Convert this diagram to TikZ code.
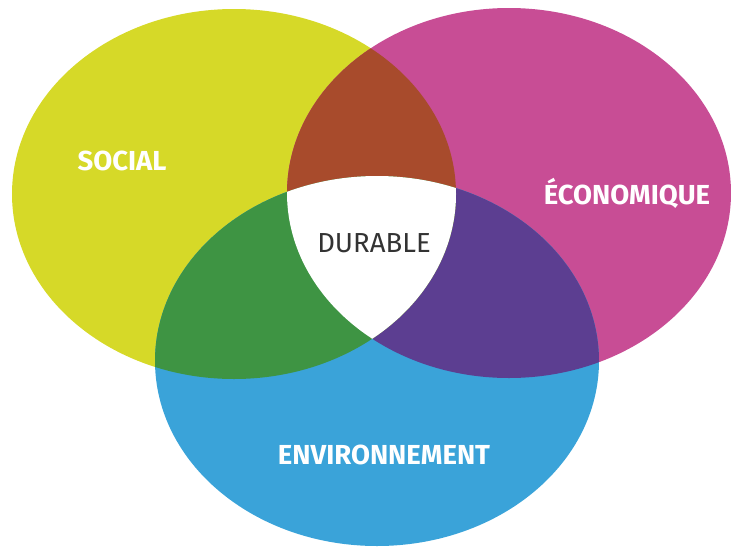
\documentclass[tikz,border=0pt]{standalone}
\usepackage{fontspec}
\setmainfont{Fira Sans}
\definecolor{socialc}{HTML}{D6D928}
\definecolor{ecoc}{HTML}{C84D95}
\definecolor{envc}{HTML}{3AA3D9}
\definecolor{socecoc}{HTML}{A84B2C}
\definecolor{socenvc}{HTML}{3E9443}
\definecolor{ecoenvc}{HTML}{5C3E91}
\begin{document}
\begin{tikzpicture}[x=1pt,y=-1pt,
  venn/.style={x radius=222,y radius=185},
  lbl/.style={anchor=base,inner sep=0pt,text=white,font=\fontsize{27.5}{27.5}\selectfont\bfseries}]
\useasboundingbox (0,0) rectangle (731,547);
\coordinate (soc) at (234,194);
\coordinate (eco) at (509,193);
\coordinate (env) at (377,361);
% les trois ensembles
\fill[socialc] (soc) ellipse [venn];
\fill[ecoc] (eco) ellipse [venn];
\fill[envc] (env) ellipse [venn];
% intersections
\begin{scope}
  \clip (eco) ellipse [venn];
  \fill[ecoenvc] (env) ellipse [venn];
\end{scope}
\begin{scope}
  \clip (soc) ellipse [venn];
  \fill[socecoc] (eco) ellipse [venn];
  \fill[socenvc] (env) ellipse [venn];
  \clip (eco) ellipse [venn];
  \fill[white] (env) ellipse [venn];
\end{scope}
% textes
\node[lbl] (social) at (122,170) {SOCIAL};
\node[lbl] (economique) at (627,204) {ÉCONOMIQUE};
\node[lbl] (environnement) at (384,464) {ENVIRONNEMENT};
\node[lbl,text=black!80,font=\fontsize{27.5}{27.5}\selectfont] (durable) at (374,252) {DURABLE};
\end{tikzpicture}
\end{document}
